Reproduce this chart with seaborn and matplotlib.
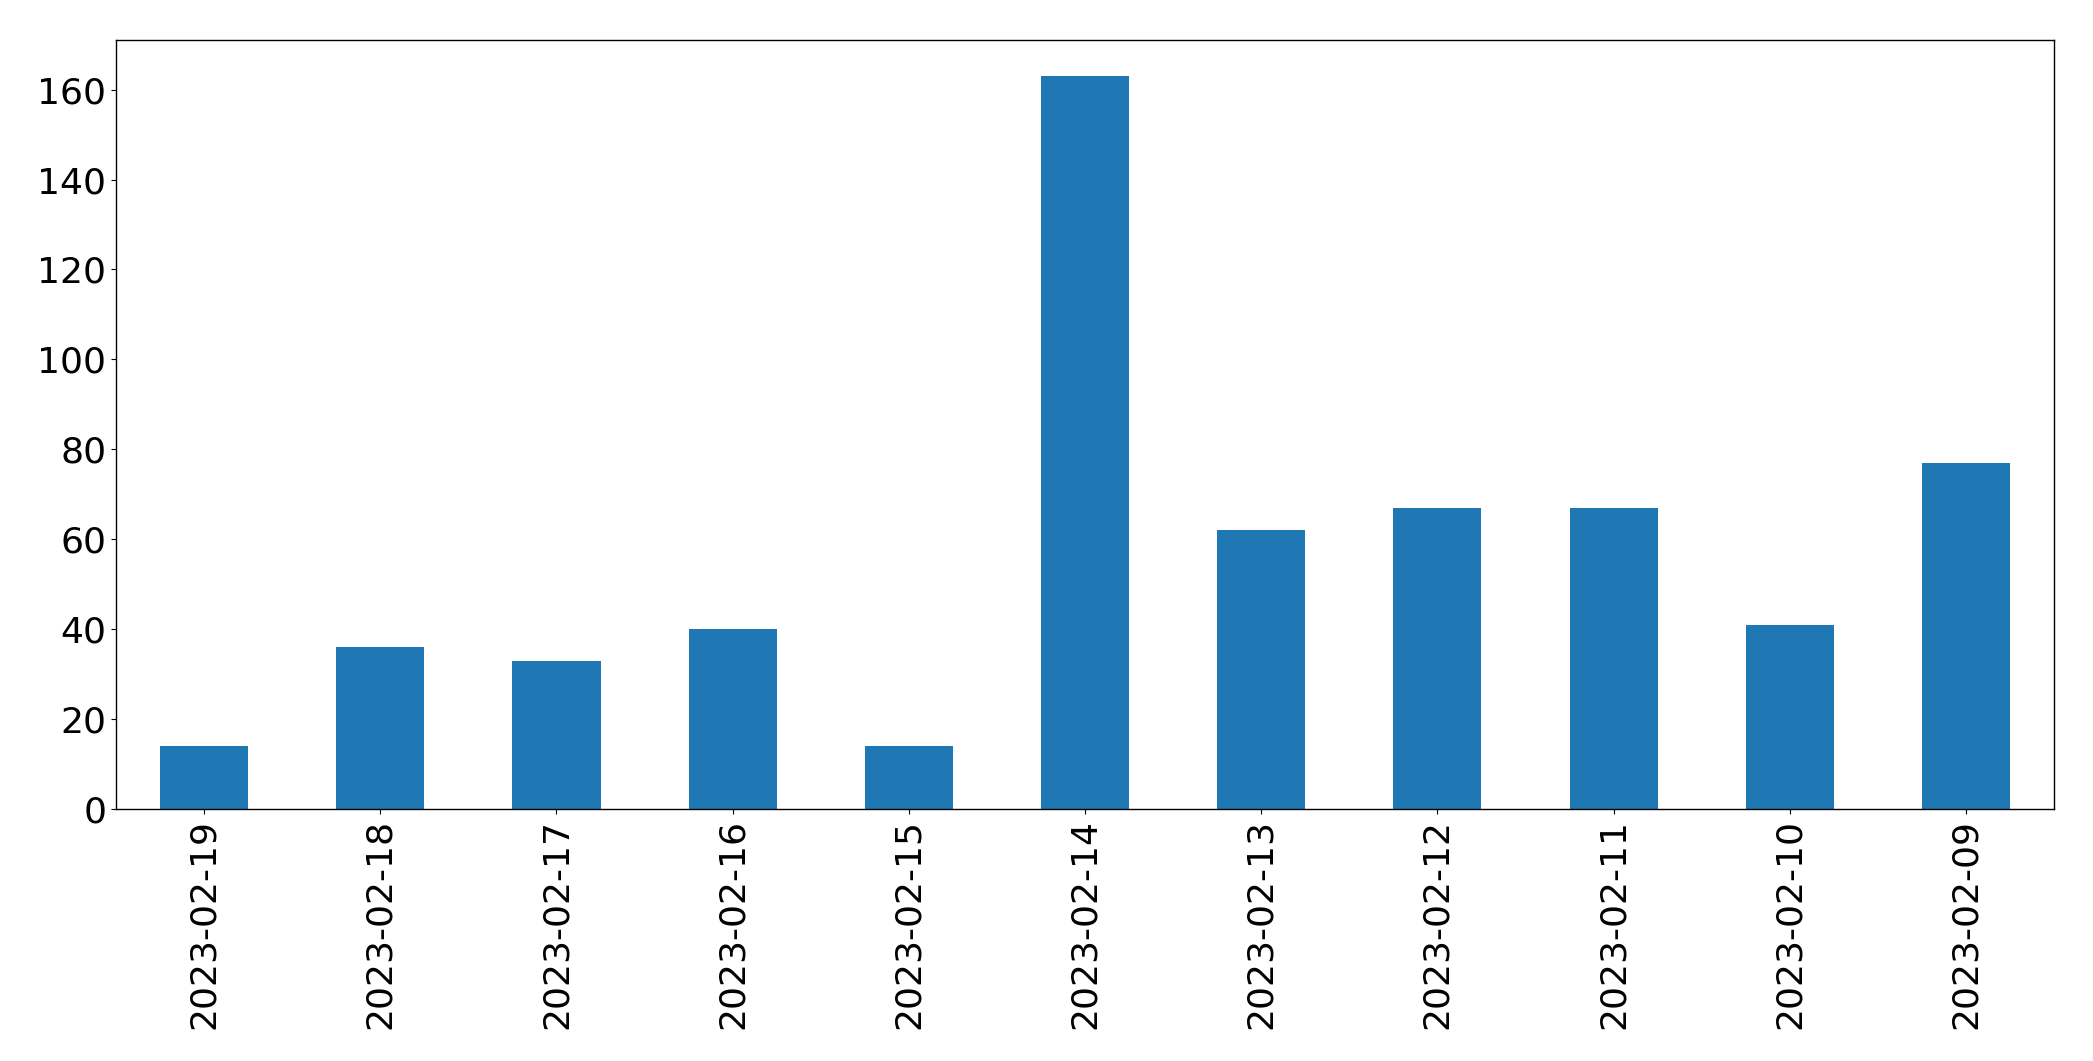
import matplotlib
matplotlib.use("Agg")
import matplotlib.pyplot as plt
import seaborn as sns
import pandas as pd

dates = ["2023-02-19", "2023-02-18", "2023-02-17", "2023-02-16", "2023-02-15",
         "2023-02-14", "2023-02-13", "2023-02-12", "2023-02-11", "2023-02-10",
         "2023-02-09"]
counts = [14, 36, 33, 40, 14, 163, 62, 67, 67, 41, 77]

df = pd.DataFrame({"date": dates, "count": counts})

fig = plt.figure(figsize=(20.93, 10.61), dpi=100)
ax = fig.add_axes([116 / 2093, 1 - 809 / 1061, (2054 - 116) / 2093, (809 - 39.5) / 1061])
sns.barplot(data=df, x="date", y="count", order=dates, color="#1f77b4",
            saturation=1, width=0.5, ax=ax)
ax.set_xlim(-0.5, len(dates) - 0.5)
ax.set_ylim(0, max(counts) * 1.05)
ax.set_xlabel("")
ax.set_ylabel("")
ax.tick_params(axis="both", labelsize=26, colors="black")
ax.tick_params(axis="x", labelrotation=90)
for s in ax.spines.values():
    s.set_visible(True)
    s.set_color("black")
    s.set_linewidth(1.0)
fig.savefig("out.png", dpi=100)
